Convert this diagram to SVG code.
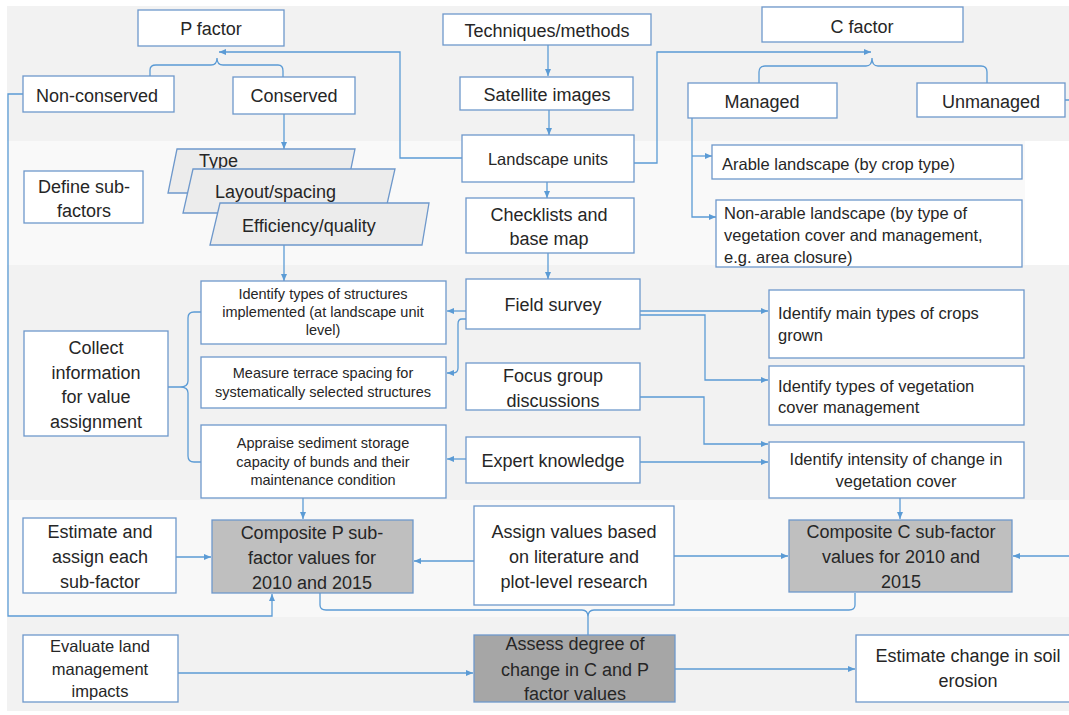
<svg xmlns="http://www.w3.org/2000/svg" width="1069" height="715" viewBox="0 0 1069 715">
<style>
.box{fill:#ffffff;stroke:#6e98cb;stroke-width:1.3}
.dark1{fill:#bfbfbf}
.dark2{fill:#a6a6a6}
.para{fill:#ececec;stroke:#6e98cb;stroke-width:1.3}
.cn{fill:none;stroke:#5b9bd5;stroke-width:1.3}
text{font-family:"Liberation Sans",Arial,sans-serif;fill:#262626}
.t18{font-size:18px}
.t16{font-size:16.5px}
.t14{font-size:14.5px}
.c{text-anchor:middle}
</style>
<defs>
<marker id="ah" markerUnits="userSpaceOnUse" markerWidth="8" markerHeight="8" refX="7" refY="3" orient="auto">
<path d="M0,0 L7,3 L0,6 z" fill="#5b9bd5"/>
</marker>
</defs>
<rect x="0" y="0" width="1069" height="715" fill="#ffffff"/>
<rect x="7" y="6" width="1062" height="135" fill="#f2f2f2"/>
<rect x="7" y="141" width="1018" height="124" fill="#f9f9f9"/>
<rect x="7" y="265" width="1062" height="235" fill="#f2f2f2"/>
<rect x="7" y="500" width="1062" height="117" fill="#f8f8f8"/>
<rect x="7" y="617" width="1062" height="94" fill="#f2f2f2"/>

<g id="connectors">
<path class="cn" d="M548,45 V76" marker-end="url(#ah)"/>
<path class="cn" d="M549,110 V135" marker-end="url(#ah)"/>
<path class="cn" d="M547,182 V198" marker-end="url(#ah)"/>
<path class="cn" d="M548,253 V279" marker-end="url(#ah)"/>
<path class="cn" d="M462,158 H400 V52 H219" marker-end="url(#ah)"/>
<path class="cn" d="M634,163 H657 V52 H871" marker-end="url(#ah)"/>
<path class="cn" d="M150,77 V70 Q150,65 156,65 H211 Q217,65 217,58 Q217,65 223,65 H278 Q283,65 283,71 V77"/>
<path class="cn" d="M759,83 V72 Q759,66 765,66 H866 Q872,66 872,58 Q872,66 878,66 H981 Q987,66 987,72 V83"/>
<path class="cn" d="M284,114 V149" marker-end="url(#ah)"/>
<path class="cn" d="M284,245 V281" marker-end="url(#ah)"/>
<path class="cn" d="M692,118 V217 H716" marker-end="url(#ah)"/>
<path class="cn" d="M692,156 H712" marker-end="url(#ah)"/>
<path class="cn" d="M168,387 H180 Q188,387 188,381 V318 Q188,312 194,312 H201 M180,387 Q188,387 188,393 V456 Q188,462 194,462 H201"/>
<path class="cn" d="M23,94 H8 V616 H272 V594" marker-end="url(#ah)"/>
<path class="cn" d="M466,311 H447" marker-end="url(#ah)"/>
<path class="cn" d="M466,319 H462 Q458,319 458,324 V368 Q458,373 453,373 H447" marker-end="url(#ah)"/>
<path class="cn" d="M466,459 H447" marker-end="url(#ah)"/>
<path class="cn" d="M640,311 H768" marker-end="url(#ah)"/>
<path class="cn" d="M640,315 H705 V380 H768" marker-end="url(#ah)"/>
<path class="cn" d="M640,397 H704 V444 H768" marker-end="url(#ah)"/>
<path class="cn" d="M640,462 H768" marker-end="url(#ah)"/>
<path class="cn" d="M900,498 V519" marker-end="url(#ah)"/>
<path class="cn" d="M303,498 V519" marker-end="url(#ah)"/>
<path class="cn" d="M176,557 H211" marker-end="url(#ah)"/>
<path class="cn" d="M474,561 H414" marker-end="url(#ah)"/>
<path class="cn" d="M674,556 H788" marker-end="url(#ah)"/>
<path class="cn" d="M1065,100 H1075 V556 H1013" marker-end="url(#ah)"/>
<path class="cn" d="M320,593 V605 Q320,610 326,610 H582 Q588,610 588,617 V635 M855,593 V605 Q855,610 849,610 H594 Q588,610 588,617"/>
<path class="cn" d="M178,673 H473" marker-end="url(#ah)"/>
<path class="cn" d="M675,669 H855" marker-end="url(#ah)"/>
</g>

<g id="p-factor"><rect class="box" x="138" y="10" width="146" height="36"/><text class="t18 c" x="211" y="35">P factor</text></g>
<g id="techniques"><rect class="box" x="443" y="14" width="208" height="31"/><text class="t18 c" x="547" y="37">Techniques/methods</text></g>
<g id="c-factor"><rect class="box" x="762" y="7" width="201" height="35"/><text class="t18 c" x="862" y="33">C factor</text></g>
<g id="non-conserved"><rect class="box" x="23" y="76" width="151" height="36"/><text class="t18 c" x="97" y="102">Non-conserved</text></g>
<g id="conserved"><rect class="box" x="233" y="77" width="122" height="37"/><text class="t18 c" x="294" y="102">Conserved</text></g>
<g id="satellite"><rect class="box" x="460" y="77" width="173" height="33"/><text class="t18 c" x="547" y="101">Satellite images</text></g>
<g id="managed"><rect class="box" x="688" y="83" width="149" height="35"/><text class="t18 c" x="762" y="108">Managed</text></g>
<g id="unmanaged"><rect class="box" x="917" y="83" width="148" height="34"/><text class="t18 c" x="991" y="108">Unmanaged</text></g>
<g id="landscape-units"><rect class="box" x="462" y="135" width="172" height="47"/><text class="t16 c" x="548" y="165">Landscape units</text></g>
<g id="arable"><rect class="box" x="712" y="145" width="310" height="34"/><text class="t16" x="722" y="170">Arable landscape (by crop type)</text></g>
<g id="non-arable"><rect class="box" x="716" y="200" width="306" height="67"/><text class="t16" x="724" y="219">Non-arable landscape (by type of</text><text class="t16" x="724" y="241">vegetation cover and management,</text><text class="t16" x="724" y="263">e.g. area closure)</text></g>
<g id="define-sub-factors"><rect class="box" x="24" y="171" width="119" height="52"/><text class="t18 c" x="84" y="193">Define sub-</text><text class="t18 c" x="84" y="217">factors</text></g>
<g id="checklists"><rect class="box" x="466" y="198" width="168" height="55"/><text class="t18 c" x="549" y="221">Checklists and</text><text class="t18 c" x="549" y="245">base map</text></g>
<g id="type"><polygon class="para" points="177,149 355,149 346,193 168,193"/><text class="t18" x="199" y="167">Type</text></g>
<g id="layout"><polygon class="para" points="193,169 395,169 385,213 183,213"/><text class="t18" x="215" y="198">Layout/spacing</text></g>
<g id="efficiency"><polygon class="para" points="220,203 429,203 422,245 210,245"/><text class="t18" x="242" y="232">Efficiency/quality</text></g>
<g id="identify-structures"><rect class="box" x="201" y="281" width="245" height="63"/><text class="t14 c" x="323" y="299">Identify types of structures</text><text class="t14 c" x="323" y="317">implemented (at landscape unit</text><text class="t14 c" x="323" y="335">level)</text></g>
<g id="field-survey"><rect class="box" x="466" y="279" width="174" height="50"/><text class="t18 c" x="553" y="311">Field survey</text></g>
<g id="main-crops"><rect class="box" x="769" y="290" width="255" height="68"/><text class="t16" x="778" y="319">Identify main types of crops</text><text class="t16" x="778" y="341">grown</text></g>
<g id="collect"><rect class="box" x="24" y="331" width="144" height="105"/><text class="t18 c" x="96" y="354">Collect</text><text class="t18 c" x="96" y="379">information</text><text class="t18 c" x="96" y="403">for value</text><text class="t18 c" x="96" y="428">assignment</text></g>
<g id="measure-terrace"><rect class="box" x="201" y="357" width="245" height="51"/><text class="t14 c" x="323" y="378">Measure terrace spacing for</text><text class="t14 c" x="323" y="397">systematically selected structures</text></g>
<g id="focus-group"><rect class="box" x="466" y="363" width="174" height="47"/><text class="t18 c" x="553" y="382">Focus group</text><text class="t18 c" x="553" y="407">discussions</text></g>
<g id="vegetation-management"><rect class="box" x="769" y="366" width="255" height="59"/><text class="t16" x="778" y="392">Identify types of vegetation</text><text class="t16" x="778" y="413">cover management</text></g>
<g id="appraise"><rect class="box" x="201" y="425" width="245" height="73"/><text class="t14 c" x="323" y="448">Appraise sediment storage</text><text class="t14 c" x="323" y="467">capacity of bunds and their</text><text class="t14 c" x="323" y="485">maintenance condition</text></g>
<g id="expert"><rect class="box" x="466" y="437" width="174" height="46"/><text class="t18 c" x="553" y="467">Expert knowledge</text></g>
<g id="intensity"><rect class="box" x="769" y="442" width="255" height="56"/><text class="t16 c" x="896" y="465">Identify intensity of change in</text><text class="t16 c" x="896" y="487">vegetation cover</text></g>
<g id="estimate-assign"><rect class="box" x="23" y="518" width="153" height="75"/><text class="t18 c" x="100" y="538">Estimate and</text><text class="t18 c" x="100" y="563">assign each</text><text class="t18 c" x="100" y="588">sub-factor</text></g>
<g id="composite-p"><rect class="box dark1" x="212" y="520" width="201" height="73"/><text class="t18 c" x="312" y="539">Composite P sub-</text><text class="t18 c" x="312" y="564">factor values for</text><text class="t18 c" x="312" y="589">2010 and 2015</text></g>
<g id="assign-values"><rect class="box" x="474" y="506" width="200" height="99"/><text class="t18 c" x="574" y="538">Assign values based</text><text class="t18 c" x="574" y="563">on literature and</text><text class="t18 c" x="574" y="588">plot-level research</text></g>
<g id="composite-c"><rect class="box dark1" x="789" y="520" width="223" height="72"/><text class="t18 c" x="901" y="538">Composite C sub-factor</text><text class="t18 c" x="901" y="563">values for 2010 and</text><text class="t18 c" x="901" y="588">2015</text></g>
<g id="evaluate"><rect class="box" x="23" y="635" width="155" height="67"/><text class="t16 c" x="100" y="652">Evaluate land</text><text class="t16 c" x="100" y="675">management</text><text class="t16 c" x="100" y="697">impacts</text></g>
<g id="assess"><rect class="box dark2" x="474" y="635" width="201" height="67"/><text class="t18 c" x="575" y="650">Assess degree of</text><text class="t18 c" x="575" y="676">change in C and P</text><text class="t18 c" x="575" y="700">factor values</text></g>
<g id="estimate-erosion"><rect class="box" x="856" y="635" width="224" height="67"/><text class="t18 c" x="968" y="662">Estimate change in soil</text><text class="t18 c" x="968" y="687">erosion</text></g>
</svg>
